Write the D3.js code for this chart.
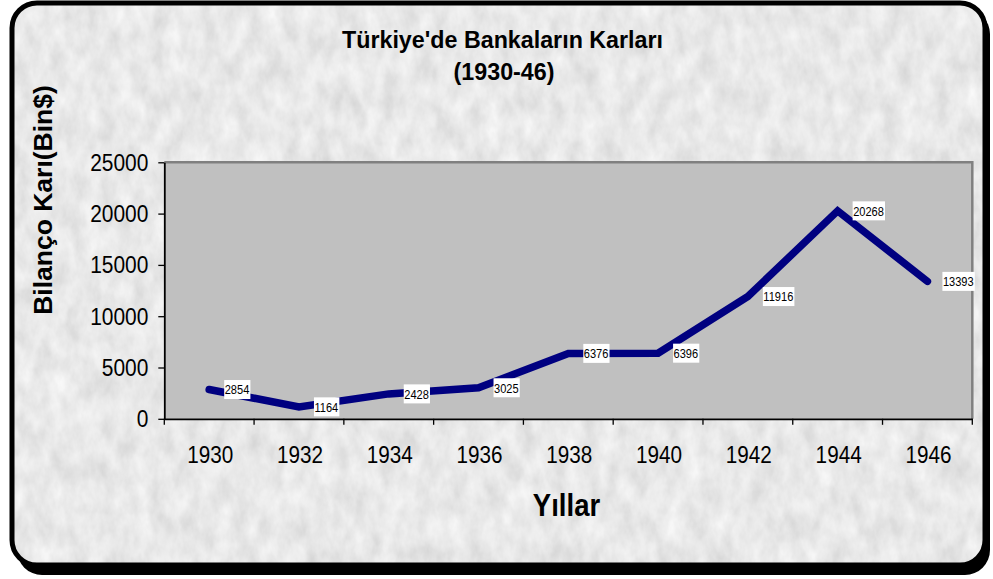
<!DOCTYPE html>
<html>
<head>
<meta charset="utf-8">
<script src="https://cdn.jsdelivr.net/npm/d3@7"></script>
<style>
  html, body { margin: 0; padding: 0; background: #fff; }
  svg { display: block; font-family: "Liberation Sans", Arial, sans-serif; }
</style>
</head>
<body>
<svg id="chart" width="993" height="579"></svg>
<script>
// chart values
var years = ["1930", "1932", "1934", "1936", "1938", "1940", "1942", "1944", "1946"];
var profits = [2854, 1164, 2428, 3025, 6376, 6396, 11916, 20268, 13393];
var yTicks = [0, 5000, 10000, 15000, 20000, 25000];
var titleLines = ["Türkiye'de Bankaların Karları", "(1930-46)"];
var yTitle = "Bilanço Karı(Bin$)";
var xTitle = "Yıllar";

var svg = d3.select("#chart");

// granite texture for the frame
var defs = svg.append("defs");
var filt = defs.append("filter").attr("id", "granite")
  .attr("x", 0).attr("y", 0).attr("width", 1).attr("height", 1);
filt.append("feTurbulence").attr("type", "fractalNoise")
  .attr("baseFrequency", "0.06 0.035").attr("numOctaves", 4).attr("seed", 7).attr("result", "noise");
filt.append("feColorMatrix").attr("in", "noise").attr("type", "matrix")
  .attr("values", "0.32 0 0 0 0.65  0.32 0 0 0 0.65  0.32 0 0 0 0.65  0 0 0 0 1").attr("result", "gray");
filt.append("feComposite").attr("in", "gray").attr("in2", "SourceGraphic").attr("operator", "in");

// frame: shadow + rounded panel
svg.append("rect").attr("x", 17).attr("y", 9).attr("width", 973).attr("height", 566)
  .attr("rx", 25).attr("fill", "#000");
svg.append("rect").attr("x", 12).attr("y", 3).attr("width", 973).attr("height", 562)
  .attr("rx", 25).attr("fill", "#cdcdcd");
svg.append("rect").attr("x", 12).attr("y", 3).attr("width", 973).attr("height", 562)
  .attr("rx", 25).attr("fill", "#fff").attr("filter", "url(#granite)");
svg.append("rect").attr("x", 12).attr("y", 3).attr("width", 973).attr("height", 562)
  .attr("rx", 25).attr("fill", "none").attr("stroke", "#000").attr("stroke-width", 5);

// scales
var x = d3.scaleBand().domain(years).range([164.3, 972.3]);
var y = d3.scaleLinear().domain([0, 25000]).range([418.8, 162.3]);

// squeezed text helper
function addText(parent, tx, ty, str, size, sx, weight, anchor, rot) {
  var t = "translate(" + tx + "," + ty + ")" + (rot ? " rotate(" + rot + ")" : "") + " scale(" + sx + ",1)";
  return parent.append("text").attr("transform", t)
    .attr("text-anchor", anchor || "middle")
    .style("font-size", size + "px").style("font-weight", weight || "normal")
    .attr("fill", "#000").text(str);
}

// plot area
var x0 = x.range()[0], x1 = x.range()[1], yTop = y.range()[1], yBot = y.range()[0];
svg.append("rect").attr("x", x0).attr("y", yTop).attr("width", x1 - x0).attr("height", yBot - yTop)
  .attr("fill", "#c0c0c0");
svg.append("path").attr("d", "M" + x0 + "," + yTop + "H" + x1 + "V" + yBot)
  .attr("fill", "none").attr("stroke", "#808080").attr("stroke-width", 2.5);

// y axis
var yAxis = svg.append("g").attr("transform", "translate(" + x0 + ",0)")
  .call(d3.axisLeft(y).tickValues(yTicks).tickSize(6).tickSizeOuter(0).tickFormat(d3.format("d")));
yAxis.select(".domain").attr("stroke", "#000").attr("stroke-width", 1.8);
yAxis.selectAll(".tick line").attr("stroke", "#000").attr("stroke-width", 1.3);
yAxis.selectAll(".tick text").attr("x", null).attr("dy", null)
  .attr("transform", "translate(-16,8) scale(0.91,1)")
  .attr("text-anchor", "end").style("font-family", "inherit").style("font-size", "23px").attr("fill", "#000");

// x axis: labels under band centers, ticks at band edges
var xAxis = svg.append("g").attr("transform", "translate(0," + yBot + ")")
  .call(d3.axisBottom(x).tickSize(0).tickSizeOuter(0));
xAxis.select(".domain").attr("stroke", "#000").attr("stroke-width", 1.8);
xAxis.selectAll(".tick text").attr("y", null).attr("dy", null)
  .attr("transform", "translate(1,44.5) scale(0.9,1)")
  .style("font-family", "inherit").style("font-size", "23px").attr("fill", "#000");
var edges = years.map(function (d) { return x(d); }).concat([x1]);
xAxis.selectAll(".edge").data(edges).enter().append("line").attr("class", "edge")
  .attr("x1", function (d) { return d; }).attr("x2", function (d) { return d; })
  .attr("y1", 0).attr("y2", 6).attr("stroke", "#000").attr("stroke-width", 1.3);

// line
var pts = years.map(function (d, i) { return [x(d) + x.bandwidth() / 2, y(profits[i])]; });
svg.append("path").datum(pts).attr("d", d3.line())
  .attr("fill", "none").attr("stroke", "#000080").attr("stroke-width", 7.5)
  .attr("stroke-linecap", "round").attr("stroke-linejoin", "miter");

// data labels
var lab = svg.selectAll(".lab").data(pts).enter().append("g").attr("class", "lab")
  .attr("transform", function (d) { return "translate(" + (d[0] + 15) + "," + d[1] + ")"; });
lab.each(function (d, i) {
  var g = d3.select(this);
  var t = addText(g, 0.5, 4.8, profits[i], 13.5, 0.82, "normal", "start");
  var w = t.node().getBBox().width * 0.82;
  g.insert("rect", "text").attr("x", 0).attr("y", -9.5).attr("width", w + 1.5).attr("height", 19)
    .attr("fill", "#fff");
});

// titles
addText(svg, 502.5, 47.5, titleLines[0], 24, 0.97, "bold");
addText(svg, 504, 80, titleLines[1], 24, 0.97, "bold");
addText(svg, 52, 200, yTitle, 26.5, 1, "bold", "middle", -90);
addText(svg, 566.5, 516, xTitle, 32, 0.86, "bold");
</script>
</body>
</html>
